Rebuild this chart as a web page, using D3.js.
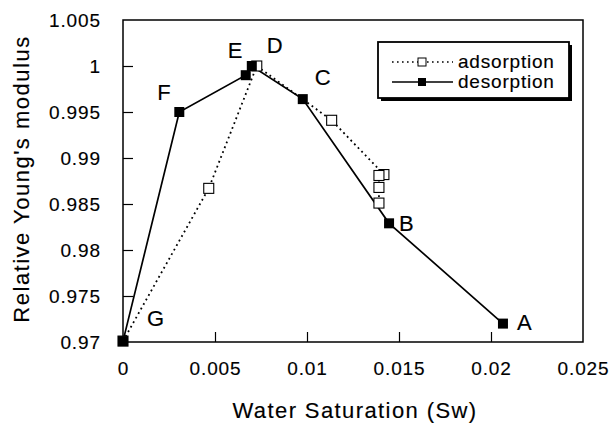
<!DOCTYPE html>
<html>
<head>
<meta charset="utf-8">
<script src="https://cdn.jsdelivr.net/npm/d3@7/dist/d3.min.js"></script>
<style>
  html, body { margin: 0; padding: 0; background: #fff; }
  svg { display: block; }
  text { font-family: "Liberation Sans", Arial, Helvetica, sans-serif; fill: #000; stroke: #000; stroke-width: 0.15px; }
</style>
</head>
<body>
<svg id="chart" width="610" height="424"></svg>
<script>
// ---- data ----
const desorptionNames = ["A", "B", "C", "D", "E", "F", "G"];
const desorptionSw = [0.02065, 0.01446, 0.00977, 0.00700, 0.00667, 0.00306, 0.00000];
const desorptionE  = [0.9720, 0.9829, 0.9964, 1.0000, 0.9990, 0.9950, 0.9701];

const adsorptionSw = [0.00000, 0.00466, 0.00727, 0.01134, 0.01418, 0.01391, 0.01391, 0.01391];
const adsorptionE  = [0.9701, 0.9867, 1.0000, 0.9941, 0.9882, 0.9881, 0.9868, 0.9851];

const xTicks = [0, 0.005, 0.01, 0.015, 0.02, 0.025];
const xTickLabels = ["0", "0.005", "0.01", "0.015", "0.02", "0.025"];
const yTicks = [0.97, 0.975, 0.98, 0.985, 0.99, 0.995, 1.0, 1.005];
const yTickLabels = ["0.97", "0.975", "0.98", "0.985", "0.99", "0.995", "1", "1.005"];

const seriesNames = ["adsorption", "desorption"];
const xTitle = "Water Saturation (Sw)";
const yTitle = "Relative Young's modulus";

// ---- layout ----
const plot = { left: 123, right: 583, top: 20, bottom: 342 };
// point-label offsets (pixels from the point) for A..G
const labelOffsets = [[14, 6], [10, 8], [12, -14], [15, -13], [-18, -17], [-22, -12], [24, -15]];

const svg = d3.select("#chart");
const x = d3.scaleLinear().domain([0, 0.025]).range([plot.left, plot.right]);
const y = d3.scaleLinear().domain([0.97, 1.005]).range([plot.bottom, plot.top]);

// axes
const yAxis = d3.axisLeft(y).tickValues(yTicks)
  .tickFormat((d, i) => yTickLabels[i]).tickSize(-10).tickPadding(22);
const xAxis = d3.axisBottom(x).tickValues(xTicks)
  .tickFormat((d, i) => xTickLabels[i]).tickSize(-10).tickPadding(20);

const gy = svg.append("g").attr("transform", `translate(${plot.left},0)`).call(yAxis);
const gx = svg.append("g").attr("transform", `translate(0,${plot.bottom})`).call(xAxis);
[gx, gy].forEach(g => {
  g.select(".domain").remove();
  g.selectAll(".tick line").attr("stroke", "#000").attr("stroke-width", 1.2);
  g.selectAll(".tick text").attr("font-size", 19).style("letter-spacing", "0.9px")
    .attr("font-family", "'Liberation Sans', Arial, sans-serif").attr("fill", "#000");
});
// remove tick marks at the frame corners
gy.selectAll(".tick line").filter(d => d === 0.97 || d === 1.005).remove();
gx.selectAll(".tick line").filter(d => d === 0 || d === 0.025).remove();

// frame
svg.append("rect")
  .attr("x", plot.left).attr("y", plot.top)
  .attr("width", plot.right - plot.left).attr("height", plot.bottom - plot.top)
  .attr("fill", "none").attr("stroke", "#000").attr("stroke-width", 1.5);

// axis titles
svg.append("text")
  .attr("x", (plot.left + plot.right) / 2 + 2).attr("y", 418)
  .attr("text-anchor", "middle").attr("font-size", 22)
  .style("letter-spacing", "1.4px").text(xTitle);
svg.append("text")
  .attr("transform", `translate(29,${(plot.top + plot.bottom) / 2 - 2}) rotate(-90)`)
  .attr("text-anchor", "middle").attr("font-size", 22)
  .style("letter-spacing", "1.5px").text(yTitle);

// data
const ads = adsorptionSw.map((v, i) => [v, adsorptionE[i]]);
const des = desorptionSw.map((v, i) => [v, desorptionE[i]]);
const line = d3.line().x(d => x(d[0])).y(d => y(d[1]));

svg.append("path").datum(ads).attr("d", line)
  .attr("fill", "none").attr("stroke", "#000").attr("stroke-width", 1.8)
  .attr("stroke-dasharray", "1.8,3.4");
svg.append("path").datum(des).attr("d", line)
  .attr("fill", "none").attr("stroke", "#000").attr("stroke-width", 1.7);

const ms = 10;
svg.selectAll("rect.ads").data(ads).enter().append("rect").attr("class", "ads")
  .attr("x", d => x(d[0]) - ms / 2).attr("y", d => y(d[1]) - ms / 2)
  .attr("width", ms).attr("height", ms)
  .attr("fill", "#fff").attr("stroke", "#000").attr("stroke-width", 1.1);
svg.selectAll("rect.des").data(des).enter().append("rect").attr("class", "des")
  .attr("x", d => x(d[0]) - ms / 2).attr("y", d => y(d[1]) - ms / 2)
  .attr("width", ms).attr("height", ms).attr("fill", "#000");

// point labels
svg.selectAll("text.pl").data(des).enter().append("text").attr("class", "pl")
  .attr("x", (d, i) => x(d[0]) + labelOffsets[i][0])
  .attr("y", (d, i) => y(d[1]) + labelOffsets[i][1])
  .attr("font-size", 22).text((d, i) => desorptionNames[i]);

// legend
const lg = svg.append("g");
lg.append("rect").attr("x", 381).attr("y", 45).attr("width", 191).attr("height", 56).attr("fill", "#000");
lg.append("rect").attr("x", 378).attr("y", 42).attr("width", 191).attr("height", 56)
  .attr("fill", "#fff").attr("stroke", "#000").attr("stroke-width", 1.8);
const legRows = [62, 82];
seriesNames.forEach((name, i) => {
  const yy = legRows[i];
  lg.append("line").attr("x1", 392).attr("x2", 453).attr("y1", yy).attr("y2", yy)
    .attr("stroke", "#000").attr("stroke-width", 1.4)
    .attr("stroke-dasharray", i === 0 ? "1.6,3.4" : null);
  lg.append("rect").attr("x", 422 - 4).attr("y", yy - 4).attr("width", 8).attr("height", 8)
    .attr("fill", i === 0 ? "#fff" : "#000").attr("stroke", "#000").attr("stroke-width", i === 0 ? 1 : 0);
  lg.append("text").attr("x", 458).attr("y", yy + 6).attr("font-size", 19)
    .style("letter-spacing", "0.8px").text(name);
});
</script>
</body>
</html>
